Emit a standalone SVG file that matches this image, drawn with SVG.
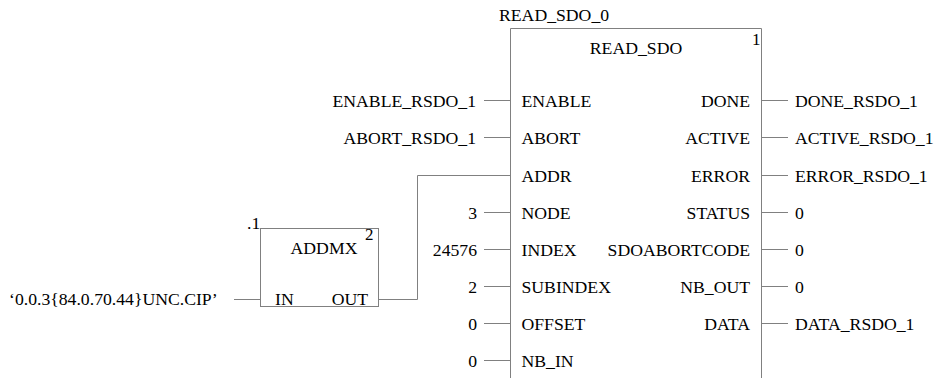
<svg xmlns="http://www.w3.org/2000/svg" width="939" height="378" viewBox="0 0 939 378">
<style>
text{font-family:"Liberation Serif","Times New Roman",serif;font-size:17.7px;fill:#000}
.e{text-anchor:end}
.m{text-anchor:middle}
.sm{font-size:17px}
.box{fill:#fff;stroke:#808080;stroke-width:1}
.ln{fill:none;stroke:#808080;stroke-width:1}
</style>
<rect width="939" height="378" fill="#fff"/>
<g id="connectors">
<path class="ln" d="M234 299.5H260.5M378.5 299.5H417.5V175.5H510.5"/>
<path class="ln" d="M484 100.5H510.5M484 137.5H510.5M484 212.5H510.5M484 249.5H510.5M484 286.5H510.5M484 323.5H510.5M484 360.5H510.5"/>
<path class="ln" d="M761.5 100.5H788M761.5 137.5H788M761.5 175.5H788M761.5 212.5H788M761.5 249.5H788M761.5 286.5H788M761.5 323.5H788"/>
</g>
<g id="read_sdo">
<path class="box" d="M510.5 390V28.5H761.5V390"/>
<text x="499" y="20.5">READ_SDO_0</text>
<text class="m" x="636" y="54">READ_SDO</text>
<text class="sm" x="752" y="45">1</text>
<text x="521.5" y="106.5">ENABLE</text>
<text x="521.5" y="143.5">ABORT</text>
<text x="521.5" y="181.5">ADDR</text>
<text x="521.5" y="218.5">NODE</text>
<text x="521.5" y="255.5">INDEX</text>
<text x="521.5" y="292.5">SUBINDEX</text>
<text x="521.5" y="329.5">OFFSET</text>
<text x="521.5" y="366.5">NB_IN</text>
<text class="e" x="750" y="106.5">DONE</text>
<text class="e" x="750" y="143.5">ACTIVE</text>
<text class="e" x="750" y="181.5">ERROR</text>
<text class="e" x="750" y="218.5">STATUS</text>
<text class="e" x="750" y="255.5">SDOABORTCODE</text>
<text class="e" x="750" y="292.5">NB_OUT</text>
<text class="e" x="750" y="329.5">DATA</text>
</g>
<g id="addmx">
<rect class="box" x="260.5" y="228.5" width="118" height="78"/>
<text x="247" y="229">.1</text>
<text class="m" x="324" y="253.5">ADDMX</text>
<text class="sm" x="365" y="240">2</text>
<text x="275" y="305">IN</text>
<text class="e" x="368" y="305">OUT</text>
</g>
<g id="inputs">
<text class="e" x="476" y="106.5">ENABLE_RSDO_1</text>
<text class="e" x="476" y="143.5">ABORT_RSDO_1</text>
<text class="e" x="477" y="218.5">3</text>
<text class="e" x="477" y="255.5">24576</text>
<text class="e" x="477" y="292.5">2</text>
<text class="e" x="477" y="329.5">0</text>
<text class="e" x="477" y="366.5">0</text>
<text x="9" y="305">‘0.0.3{84.0.70.44}UNC.CIP’</text>
</g>
<g id="outputs">
<text x="795" y="106.5">DONE_RSDO_1</text>
<text x="795" y="143.5">ACTIVE_RSDO_1</text>
<text x="795" y="181.5">ERROR_RSDO_1</text>
<text x="795" y="218.5">0</text>
<text x="795" y="255.5">0</text>
<text x="795" y="292.5">0</text>
<text x="795" y="329.5">DATA_RSDO_1</text>
</g>
</svg>
